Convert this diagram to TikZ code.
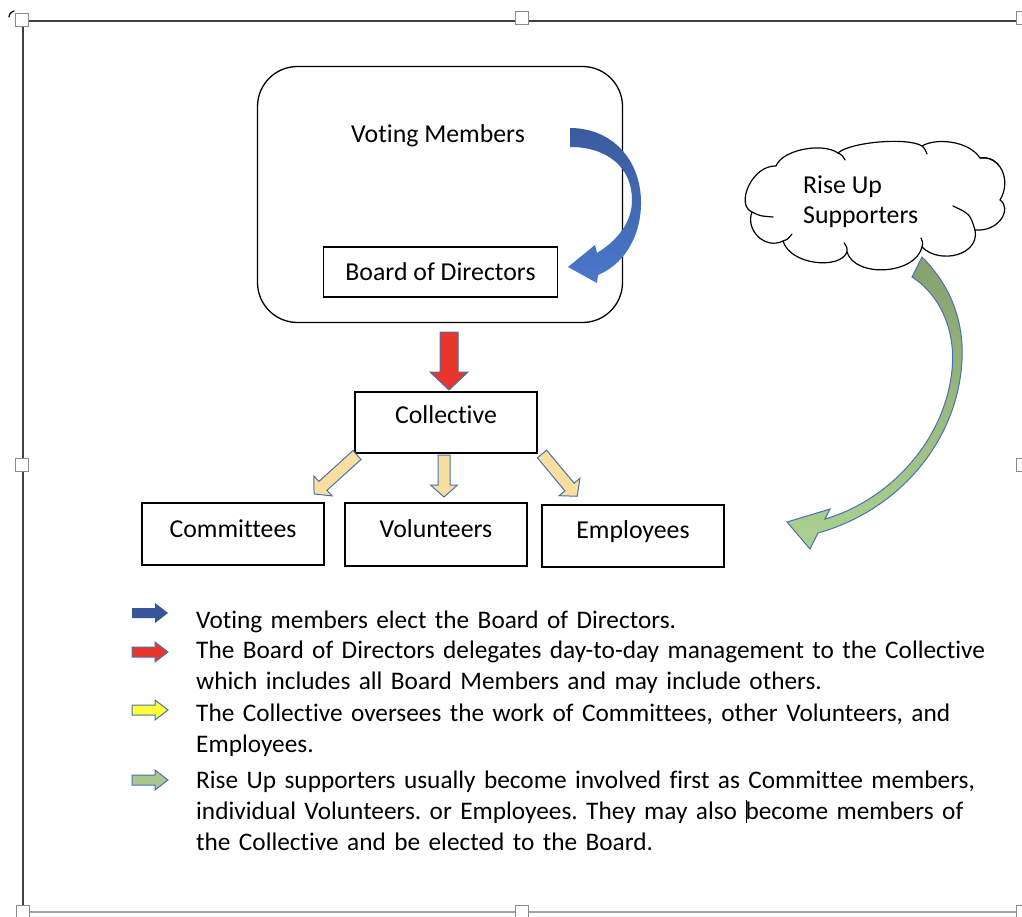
\documentclass[tikz,border=0pt]{standalone}
\usepackage{fontspec}
\setmainfont{Carlito}[Ligatures=NoCommon]
\frenchspacing
\definecolor{framegray}{HTML}{404040}
\definecolor{handlegray}{HTML}{8A8A8A}
\definecolor{arrowblue}{HTML}{4A6FB5}
\definecolor{blueA}{HTML}{3A5B9E}
\definecolor{blueB}{HTML}{4A78CA}
\definecolor{legblue}{HTML}{35579A}
\definecolor{redfill}{HTML}{E8372A}
\definecolor{paleyellow}{HTML}{F8DF9F}
\definecolor{brightyellow}{HTML}{FFFF3A}
\definecolor{greenA}{HTML}{86A06E}
\definecolor{greenB}{HTML}{ABD290}
\definecolor{greenleg}{HTML}{A9C98E}
\newcommand{\blkarr}[7]{%
  \begin{scope}[shift={#2},rotate=#3]
    \path[#1] (0,-#5) -- ({#4-#7},-#5) -- ({#4-#7},-#6) -- (#4,0) -- ({#4-#7},#6) -- ({#4-#7},#5) -- (0,#5) -- cycle;
  \end{scope}}
\tikzset{
  box/.style={draw, line width=1.3pt, inner sep=0pt, font=\fontsize{25.8}{30}\selectfont},
  plain/.style={inner sep=0pt, font=\fontsize{25.8}{30}\selectfont},
  legtext/.style={inner sep=0pt, align=left, text width=840pt, font=\fontsize{25.3}{31}\selectfont},
  handle/.style={draw=handlegray, fill=white, line width=0.8pt, minimum size=13pt, inner sep=0pt},
  outlined/.style={draw=arrowblue, line width=1pt},
  puff/.style={line width=1.2pt, line cap=round, line join=round},
}
\begin{document}
\begin{tikzpicture}[x=1pt,y=-1pt]
\useasboundingbox (0,0) rectangle (1022,917);
\fill[white] (0,0) rectangle (1022,917);
% frame
\draw[framegray, line width=2.4pt] (22,21) -- (1022,21);
\draw[framegray, line width=2.4pt] (23,20) -- (23,912);
\draw[handlegray!80, line width=1.5pt] (23,912) -- (1022,912);
\node[handle] (h1) at (22,20) {};
\node[handle] (h2) at (522,18) {};
\node[handle] (h3) at (1023,18) {};
\node[handle] (h4) at (22,465) {};
\node[handle] (h5) at (1023,465) {};
\node[handle] (h6) at (23,912) {};
\node[handle] (h7) at (522,912) {};
\node[handle] (h8) at (1023,912) {};
\draw[black, line width=1.3pt, line cap=round] (9,17) .. controls (10,13) .. (14,11);

% top rounded box
\node[draw, line width=1.3pt, rounded corners=40pt, minimum width=365pt, minimum height=256pt, inner sep=0pt] (vmbox) at (440,194.5) {};
\node[plain, anchor=base] (vm) at (438,143) {Voting Members};
\node[box, anchor=base, minimum width=234pt, text height=33pt, text depth=17pt] (bod) at (440.5,280) {Board of Directors};

% blue curved arrow
\shade[top color=blueA, bottom color=blueB] (570,128) .. controls (612,128) and (642,160) .. (641,205) .. controls (640,240) and (622,265) .. (598,275) -- (597,283) -- (568,267) -- (595,245) -- (597,253) .. controls (618,240) and (632,222) .. (632,200) .. controls (632,168) and (608,147) .. (570,147) -- cycle;

% collective
\node[box, anchor=base, minimum width=182pt, text height=31pt, text depth=30pt] (coll) at (446,423) {Collective};
\node[box, anchor=base, minimum width=182pt, text height=34pt, text depth=28pt] (comm) at (233,537) {Committees};
\node[box, anchor=base, minimum width=182pt, text height=34pt, text depth=29pt] (vol) at (436,537) {Volunteers};
\node[box, anchor=base, minimum width=182pt, text height=33pt, text depth=29pt] (emp) at (633,538) {Employees};

% red arrow
\blkarr{fill=redfill, outlined}{(449,332)}{-90}{58}{9}{19}{18}
% yellow arrows
\blkarr{fill=paleyellow, outlined}{(444,455)}{-90}{42}{6}{13.5}{12}
\blkarr{fill=paleyellow, outlined}{(357,455)}{-137.8}{58}{6}{13.5}{12}
\blkarr{fill=paleyellow, outlined}{(542,454)}{-50.2}{55}{6}{13.5}{12}

% cloud
\draw[puff, fill=white] (752,212) .. controls (735,205) and (752,165) .. (776,166)
  .. controls (782,150) and (822,142) .. (838,153)
  .. controls (850,142) and (908,137) .. (922,146)
  .. controls (935,138) and (968,140) .. (980,158)
  .. controls (1000,155) and (1012,180) .. (1000,200)
  .. controls (1012,208) and (1000,232) .. (975,230)
  .. controls (980,255) and (940,265) .. (922,247)
  .. controls (915,275) and (855,278) .. (847,252)
  .. controls (840,270) and (790,265) .. (783,241)
  .. controls (765,250) and (745,230) .. cycle;
\draw[puff] (752,212) .. controls (760,216) .. (773,217);
\draw[puff] (783,241) .. controls (787,240) .. (792,234);
\draw[puff] (847,252) .. controls (847,247) .. (844,243);
\draw[puff] (922,247) .. controls (923,243) .. (921,238);
\draw[puff] (975,230) .. controls (970,214) .. (953,206);
\draw[puff] (980,158) .. controls (990,158) .. (998,164);
\draw[puff] (922,146) .. controls (925,149) .. (927,154);
\draw[puff] (838,153) .. controls (842,155) .. (845,160);
\node[plain, anchor=west, align=left] (rsu) at (803,201.5) {Rise Up\\Supporters};

% green curved arrow
\shade[top color=greenA, bottom color=greenB, draw=arrowblue, line width=1pt] (922,257) .. controls (950,285) and (964,320) .. (962,360) .. controls (958,440) and (900,510) .. (818,533) -- (810,549) -- (787,522) -- (830,509) -- (825,519) .. controls (890,500) and (945,440) .. (952,370) .. controls (956,330) and (940,295) .. (912,277) -- cycle;

% legend arrows
\blkarr{fill=legblue}{(132,613)}{0}{36}{5}{10}{13}
\blkarr{fill=redfill, outlined}{(132,652)}{0}{36}{5}{10}{13}
\blkarr{fill=brightyellow, outlined}{(132,710)}{0}{36}{5}{10}{13}
\blkarr{fill=greenleg, outlined}{(132,780)}{0}{36}{5}{10}{13}

% legend text
\node[legtext, anchor=base west] (l1) at (196,628) {Voting members elect the Board of Directors.};
\node[legtext, anchor=base west] (l2) at (196,658) {The Board of Directors delegates day-to-day management to the Collective\\which includes all Board Members and may include others.};
\node[legtext, anchor=base west] (l3) at (196,721) {The Collective oversees the work of Committees, other Volunteers, and\\Employees.};
\node[legtext, anchor=base west] (l4) at (196,788) {Rise Up supporters usually become involved first as Committee members,\\individual Volunteers. or Employees. They may also \makebox[0pt][l]{\rule[-4pt]{0.7pt}{23pt}}become members of\\the Collective and be elected to the Board.};
\end{tikzpicture}
\end{document}
